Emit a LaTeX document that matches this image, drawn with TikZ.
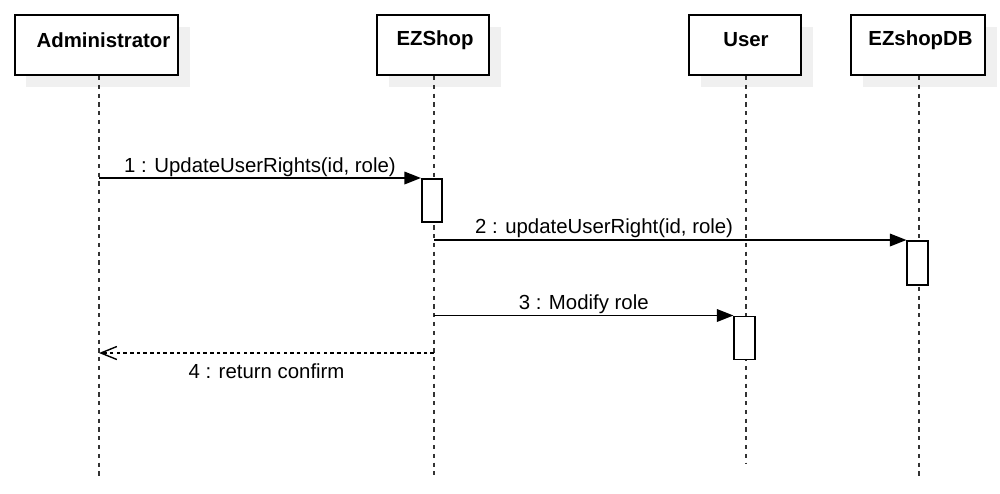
\documentclass[tikz,border=0pt]{standalone}
\usepackage{fontspec}
\setmainfont{Liberation Sans}
\usetikzlibrary{arrows.meta,shadows,calc}
\definecolor{sombra}{HTML}{F0F0F0}
\begin{document}
\begin{tikzpicture}[
      caja/.style={draw=black, line width=1.1pt, fill=white, inner sep=0pt, minimum height=1.2cm,
        general shadow={fill=sombra, shadow xshift=0.23cm, shadow yshift=-0.24cm}},
      nombre/.style={font=\fontsize{11.6}{13}\selectfont\bfseries},
      vida/.style={line width=1.1pt, black!80, dash pattern=on 2.4pt off 2.6pt},
      activ/.style={draw=black, line width=0.9pt, fill=white, inner sep=0pt, minimum width=0.41cm},
      msj/.style={line width=1pt, -{Triangle[length=0.33cm, width=0.25cm]}},
      retorno/.style={line width=1pt, dash pattern=on 2pt off 1.8pt, -{Straight Barb[length=0.32cm, width=0.26cm, line width=0.8pt]}},
      etqMsj/.style={font=\fontsize{11.6}{13}\selectfont, anchor=base}
    ]
    \useasboundingbox (0,0) rectangle (20,-9.86);

    % --- participantes ---
    \node[caja, minimum width=3.26cm] (admin) at (1.93,-0.9) {};
    \node[nombre] at (2.07,-0.8) {Administrator};
    \node[caja, minimum width=2.24cm] (ezshop) at (8.66,-0.9) {};
    \node[nombre] at (8.7,-0.8) {EZShop};
    \node[caja, minimum width=2.24cm] (user) at (14.9,-0.9) {};
    \node[nombre] at (14.92,-0.8) {User};
    \node[caja, minimum width=2.68cm] (db) at (18.36,-0.9) {};
    \node[nombre] at (18.41,-0.8) {EZshopDB};

    % --- lineas de vida ---
    \coordinate (adminFin) at (1.98,-9.52);
    \coordinate (ezshopFin) at (8.68,-9.5);
    \coordinate (userFin) at (14.92,-9.28);
    \coordinate (dbFin) at (18.38,-9.52);
    \draw[vida] (admin.south -| adminFin) -- (adminFin);
    \draw[vida] (ezshop.south -| ezshopFin) -- (ezshopFin);
    \draw[vida] (user.south -| userFin) -- (userFin);
    \draw[vida] (db.south -| dbFin) -- (dbFin);

    % --- activaciones ---
    \node[activ, minimum height=0.86cm, anchor=north] (act1) at (8.64,-3.56) {};
    \node[activ, minimum height=0.88cm, anchor=north] (act2) at (18.35,-4.8) {};
    \node[activ, minimum height=0.86cm, anchor=north] (act3) at (14.89,-6.31) {};

    % --- mensajes ---
    \coordinate (m1) at (adminFin |- act1.north);
    \coordinate (m2) at (ezshopFin |- act2.north);
    \coordinate (m3) at (ezshopFin |- act3.north);
    \coordinate (m4a) at (ezshopFin |- 0,-7.06);
    \coordinate (m4b) at (adminFin |- 0,-7.06);
    \draw[msj] (m1) -- (act1.north west)
      node[etqMsj, pos=0.5, yshift=3pt] {1 : UpdateUserRights(id, role)};
    \draw[msj] (m2) -- (act2.north west)
      node[etqMsj, pos=0.36, yshift=3.5pt] {2 : updateUserRight(id, role)};
    \draw[msj] (m3) -- (act3.north west)
      node[etqMsj, pos=0.5, yshift=3.5pt] {3 : Modify role};
    \draw[retorno] (m4a) -- (m4b)
      node[etqMsj, pos=0.5, yshift=-0.5cm] {4 : return confirm};
  \end{tikzpicture}
\end{document}
